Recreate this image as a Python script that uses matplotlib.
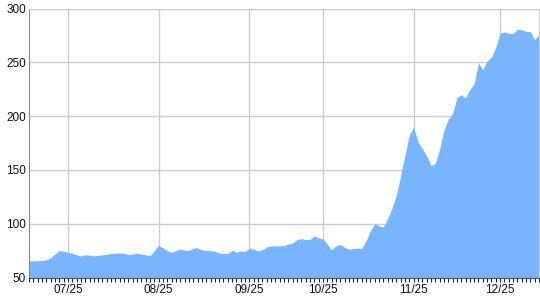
import matplotlib.pyplot as plt
import numpy as np

# daily values (trading days)
values = [
    65.3, 65.4, 65.6, 65.8, 66.3, 68.3, 71.7, 75.0, 74.4, 73.4,
    72.4, 71.2, 70.0, 71.1, 70.8, 70.1, 70.6, 71.1, 71.6, 72.3,
    72.6, 72.8, 72.5, 71.2, 71.8, 72.5, 71.8, 71.1, 70.3, 75.0,
    79.8, 77.5, 74.8, 73.4, 75.0, 76.4, 75.4, 75.2, 77.2, 77.6,
    75.6, 75.1, 74.9, 74.4, 72.8, 72.2, 72.4, 75.3, 73.5, 74.5,
    74.2, 77.0, 76.4, 74.6, 75.8, 78.4, 79.3, 79.4, 79.4, 79.8,
    81.0, 82.0, 85.2, 86.1, 85.2, 85.5, 88.6, 86.8, 85.7, 81.0,
    75.6, 79.4, 80.7, 78.0, 76.3, 76.8, 77.1, 77.1, 84.0, 93.5,
    100.1, 97.9, 96.9, 104.8, 114.8, 126.4, 145.0, 164.0, 182.0, 190.0,
    176.0, 170.0, 163.0, 154.0, 156.0, 169.0, 187.0, 197.0, 202.0, 217.0,
    220.0, 216.8, 224.7, 230.3, 249.6, 243.0, 251.2, 254.6, 264.0, 277.3,
    278.1, 277.0, 276.6, 280.7, 280.1, 278.8, 278.4, 271.0, 276.3,
]
month_labels = ["07/25", "08/25", "09/25", "10/25", "11/25", "12/25"]
month_idx = [9, 30, 51, 68, 89, 109]
y_ticks = [50, 100, 150, 200, 250, 300]

plt.rcParams['font.family'] = ['Liberation Sans', 'DejaVu Sans']

fig = plt.figure(figsize=(5.4, 3.0), dpi=100)
ax = fig.add_axes([29 / 540, 22.5 / 300, 510 / 540, 269 / 300])

x = np.arange(len(values))
ax.fill_between(x, 50, values, color='#78b4ff', linewidth=0, zorder=2)

ax.set_xlim(0, len(values) - 1)
ax.set_ylim(50, 300)

ax.set_yticks(y_ticks)
ax.set_xticks(month_idx)
ax.set_xticklabels(month_labels)
ax.set_xticks(x, minor=True)

ax.grid(True, which='major', color='#cccccc', linewidth=1, zorder=1)
ax.tick_params(axis='y', length=0, pad=2, labelsize=8.5, colors='#111111')
ax.tick_params(axis='x', which='both', length=3, width=0.8, color='#222222',
               direction='out', pad=2, labelsize=8.5, labelcolor='#111111')

for side in ['top', 'right']:
    ax.spines[side].set_color('#cccccc')
ax.spines['left'].set_color('#888888')
ax.spines['bottom'].set_color('#555555')
ax.set_axisbelow(True)

fig.savefig('out.png', dpi=100)
